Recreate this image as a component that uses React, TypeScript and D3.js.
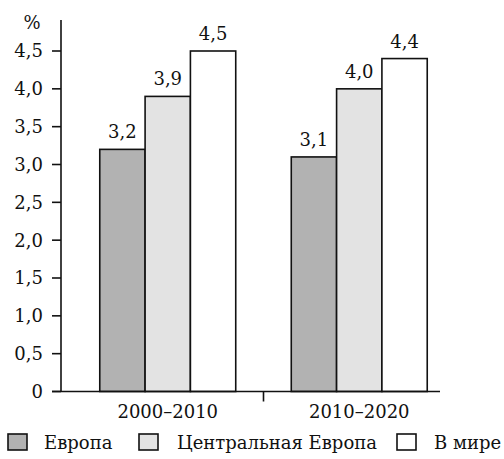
import { useMemo } from "react";
import * as d3 from "d3";

const periods = ["2000–2010", "2010–2020"];
const seriesNames = ["Европа", "Центральная Европа", "В мире"];
const europe = [3.2, 3.1];
const centralEurope = [3.9, 4.0];
const world = [4.5, 4.4];
const yTicks = [0, 0.5, 1, 1.5, 2, 2.5, 3, 3.5, 4, 4.5];
const unitLabel = "%";

const fills = ["#b2b2b2", "#e3e3e3", "#ffffff"];
const ink = "#111";
const font = "'DejaVu Serif', serif";

const W = 504;
const H = 459;

const fmt = (v: number) => (v === 0 ? "0" : v.toFixed(1).replace(".", ","));

export default function App() {
  const values = [europe, centralEurope, world];

  const { x0, x1, y } = useMemo(() => {
    const x0 = d3.scaleBand<string>().domain(periods).range([72, 455]).paddingInner(0.29).paddingOuter(0.145);
    const x1 = d3.scaleBand<string>().domain(seriesNames).range([0, x0.bandwidth()]);
    const y = d3.scaleLinear().domain([0, 4.5]).range([391.5, 51]);
    return { x0, x1, y };
  }, []);

  const axisX = 61;
  const zeroY = y(0);
  const midTick = (x0(periods[0])! + x0.bandwidth() + x0(periods[1])!) / 2;
  // legend item positions
  const legendX = [8, 139, 397];
  const legendTextX = [44, 177, 434];

  return (
    <svg width={W} height={H} style={{ position: "absolute", left: 0, top: 0, background: "#fff" }}
      fontFamily={font} fontSize={18} fill={ink}>
      {/* bars */}
      {periods.map((p, i) => (
        <g key={p} transform={`translate(${x0(p)},0)`}>
          {seriesNames.map((s, j) => {
            const v = values[j][i];
            const bx = x1(s)!;
            return (
              <g key={s}>
                <rect x={bx} y={y(v)} width={x1.bandwidth()} height={zeroY - y(v)}
                  fill={fills[j]} stroke={ink} strokeWidth={1.6} />
                <text x={bx + x1.bandwidth() / 2} y={y(v) - 11} textAnchor="middle">{fmt(v)}</text>
              </g>
            );
          })}
        </g>
      ))}

      {/* y axis */}
      <line x1={axisX} x2={axisX} y1={20} y2={zeroY} stroke={ink} strokeWidth={1.6} />
      {yTicks.map((t) => (
        <g key={t}>
          <line x1={axisX - 9} x2={axisX} y1={y(t)} y2={y(t)} stroke={ink} strokeWidth={1.6} />
          <text x={43} y={y(t)} dy="0.36em" textAnchor="end">{fmt(t)}</text>
        </g>
      ))}
      <text x={32} y={29} textAnchor="middle">{unitLabel}</text>

      {/* x axis */}
      <line x1={axisX - 9} x2={440} y1={zeroY} y2={zeroY} stroke={ink} strokeWidth={1.6} />
      <line x1={midTick} x2={midTick} y1={zeroY} y2={zeroY + 10} stroke={ink} strokeWidth={1.6} />
      {periods.map((p) => (
        <text key={p} x={x0(p)! + x0.bandwidth() / 2} y={418} textAnchor="middle">{p}</text>
      ))}

      {/* legend */}
      {seriesNames.map((s, j) => (
        <g key={s}>
          <rect x={legendX[j]} y={434} width={19} height={16} fill={fills[j]} stroke={ink} strokeWidth={1.6} />
          <text x={legendTextX[j]} y={449}>{s}</text>
        </g>
      ))}
    </svg>
  );
}
